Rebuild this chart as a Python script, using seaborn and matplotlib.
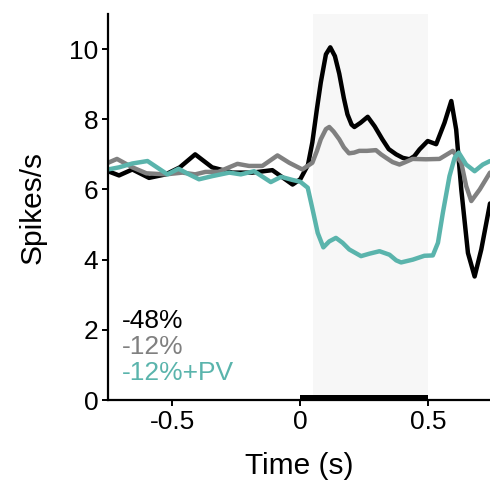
import numpy as np
import pandas as pd
import matplotlib
matplotlib.use("Agg")
import matplotlib.pyplot as plt
import seaborn as sns
from matplotlib.patches import Rectangle

# ---- data ----
t_black = [-0.75, -0.707, -0.655, -0.59, -0.525, -0.47, -0.41, -0.344, -0.265, -0.187,
           -0.109, -0.03, 0.0, 0.03, 0.047, 0.065, 0.08, 0.1, 0.117, 0.135, 0.152, 0.17,
           0.184, 0.2, 0.211, 0.235, 0.263, 0.29, 0.32, 0.345, 0.374, 0.4, 0.426, 0.445,
           0.465, 0.497, 0.53, 0.5625, 0.589, 0.608, 0.628, 0.654, 0.68, 0.706, 0.74]
v_black = [6.52, 6.4, 6.57, 6.33, 6.43, 6.63, 7.0, 6.63, 6.48, 6.48,
           6.55, 6.14, 6.29, 6.7, 7.34, 8.3, 9.05, 9.85, 10.05, 9.8, 9.3, 8.6,
           8.14, 7.85, 7.78, 7.9, 8.07, 7.8, 7.43, 7.15, 7.0, 6.9, 6.86, 6.95,
           7.14, 7.38, 7.29, 7.9, 8.52, 7.71, 6.0, 4.19, 3.52, 4.29, 5.6]

t_gray = [-0.75, -0.715, -0.655, -0.6, -0.525, -0.46, -0.41, -0.37, -0.32, -0.245,
          -0.2, -0.148, -0.089, -0.043, 0.008, 0.047, 0.065, 0.08, 0.1, 0.113, 0.13,
          0.152, 0.17, 0.19, 0.21, 0.23, 0.26, 0.295, 0.315, 0.335, 0.36, 0.387, 0.41,
          0.438, 0.49, 0.543, 0.595, 0.628, 0.647, 0.667, 0.7, 0.74]
v_gray = [6.76, 6.87, 6.63, 6.46, 6.43, 6.48, 6.43, 6.5, 6.5, 6.73,
          6.67, 6.67, 6.97, 6.76, 6.57, 6.76, 7.1, 7.43, 7.72, 7.78, 7.65,
          7.43, 7.2, 7.03, 7.05, 7.1, 7.1, 7.12, 7.0, 6.9, 6.78, 6.71, 6.78,
          6.87, 6.86, 6.87, 7.1, 6.76, 6.1, 5.67, 6.0, 6.48]

t_teal = [-0.75, -0.707, -0.655, -0.596, -0.557, -0.518, -0.475, -0.434, -0.395, -0.343,
          -0.277, -0.232, -0.18, -0.115, -0.075, -0.03, 0.0, 0.029, 0.048, 0.068, 0.09,
          0.113, 0.139, 0.165, 0.191, 0.237, 0.27, 0.309, 0.348, 0.374, 0.393, 0.439,
          0.484, 0.517, 0.537, 0.556, 0.582, 0.602, 0.618, 0.647, 0.68, 0.712, 0.74]
v_teal = [6.57, 6.63, 6.74, 6.81, 6.62, 6.43, 6.59, 6.43, 6.29, 6.38,
          6.48, 6.43, 6.52, 6.21, 6.36, 6.27, 6.22, 6.05, 5.43, 4.76, 4.35,
          4.52, 4.62, 4.48, 4.29, 4.1, 4.17, 4.24, 4.14, 3.98, 3.92, 4.0,
          4.11, 4.12, 4.48, 5.33, 6.38, 6.9, 7.05, 6.71, 6.52, 6.71, 6.81]

labels = ["-48%", "-12%", "-12%+PV"]
colors = ["#000000", "#808080", "#5ab4ac"]
x_ticks = [-0.5, 0, 0.5]
x_ticklabels = ["-0.5", "0", "0.5"]
y_ticks = [0, 2, 4, 6, 8, 10]
stim_window = (0.0, 0.5)
shade_window = (0.05, 0.5)

df = pd.concat([
    pd.DataFrame({"t": t_black, "v": v_black, "cond": labels[0]}),
    pd.DataFrame({"t": t_gray, "v": v_gray, "cond": labels[1]}),
    pd.DataFrame({"t": t_teal, "v": v_teal, "cond": labels[2]}),
], ignore_index=True)

sns.set_theme(style="ticks")
plt.rcParams["font.family"] = ["Liberation Sans", "DejaVu Sans"]

fig = plt.figure(figsize=(4.9, 4.87), dpi=100)
ax = fig.add_axes([108 / 490, 87 / 487, (490 - 108) / 490, (400 - 14) / 487])

ax.axvspan(shade_window[0], shade_window[1], color="#f7f7f7", zorder=0, lw=0)

sns.lineplot(data=df, x="t", y="v", hue="cond", palette=dict(zip(labels, colors)),
             hue_order=labels, linewidth=3.2, ax=ax, legend=False, sort=False)
for ln in ax.lines:
    ln.set_solid_joinstyle("round")
    ln.set_solid_capstyle("round")

ax.add_patch(Rectangle((stim_window[0], 0), stim_window[1] - stim_window[0], 0.13,
                       color="black", lw=0, zorder=5, clip_on=False))

ax.set_xlim(-0.75, 0.74)
ax.set_ylim(0, 11)
ax.set_xticks(x_ticks)
ax.set_xticklabels(x_ticklabels)
ax.set_yticks(y_ticks)
ax.tick_params(axis="both", labelsize=19, length=4, width=1.4, color="black",
               labelcolor="black", pad=3)
for s in ["left", "bottom"]:
    ax.spines[s].set_linewidth(1.6)
    ax.spines[s].set_color("black")
sns.despine(ax=ax)

ax.set_xlabel("Time (s)", fontsize=21.5, labelpad=13, color="black")
ax.set_ylabel("Spikes/s", fontsize=21.5, labelpad=16, color="black")

for i, (lab, col) in enumerate(zip(labels, colors)):
    ax.text(0.037, 0.205 - i * 0.067, lab, transform=ax.transAxes, color=col,
            fontsize=19, va="center", ha="left")

fig.savefig("out.png", dpi=100)
